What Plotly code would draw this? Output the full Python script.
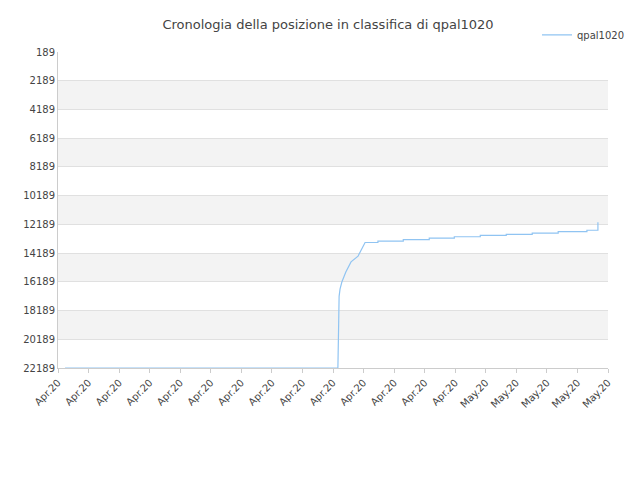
import plotly.graph_objects as go

tick_labels = ["Apr.20"]*14 + ["May.20"]*5
y_ticks = list(range(189, 22190, 2000))
x_vals = [0.23, 9.16, 9.19, 9.20, 9.23, 9.29, 9.42, 9.59, 9.82, 10.05, 10.47, 10.47, 11.3, 11.3, 12.15, 12.15, 12.97, 12.97, 13.82, 13.82, 14.67, 14.67, 15.52, 15.52, 16.37, 16.37, 17.31, 17.31, 17.67, 17.67]
y_vals = [22189, 22189, 18500, 17200, 16700, 16200, 15500, 14800, 14400, 13450, 13450, 13350, 13350, 13250, 13250, 13150, 13150, 13050, 13050, 12950, 12950, 12880, 12880, 12800, 12800, 12700, 12700, 12600, 12600, 12050]

fig = go.Figure()
for i, y0 in enumerate(range(189, 22189, 2000)):
    if i % 2 == 1:
        fig.add_hrect(y0=y0, y1=y0+2000, fillcolor="#f3f3f3", line_width=0, layer="below")
fig.add_trace(go.Scatter(x=x_vals, y=y_vals, mode="lines",
                         line=dict(color="#90c4f2", width=1.2), name="qpal1020"))
fig.update_layout(
    width=640, height=480, plot_bgcolor="white", paper_bgcolor="white",
    margin=dict(l=50, r=40, t=41, b=120),
    title=dict(text="Cronologia della posizione in classifica di qpal1020", x=0.5, y=0.975,
               font=dict(family="DejaVu Sans", size=13, color="#444")),
    font=dict(family="DejaVu Sans", size=10, color="#444"),
    legend=dict(x=1.04, y=1.1, xanchor="right", yanchor="top", font=dict(size=10)),
    showlegend=True,
)
fig.update_xaxes(range=[0, 18], tickvals=list(range(19)), ticktext=tick_labels, tickangle=-45,
                 automargin=False, showgrid=False, showline=True, linecolor="#ccc",
                 ticks="outside", ticklen=4, tickcolor="#ccc")
fig.update_yaxes(range=[22189, 189], tickvals=y_ticks, ticktext=[str(v) for v in y_ticks],
                 automargin=False, showgrid=True, gridcolor="#e0e0e0",
                 showline=True, linecolor="#ccc", zeroline=False)
fig.write_html("out.html")
